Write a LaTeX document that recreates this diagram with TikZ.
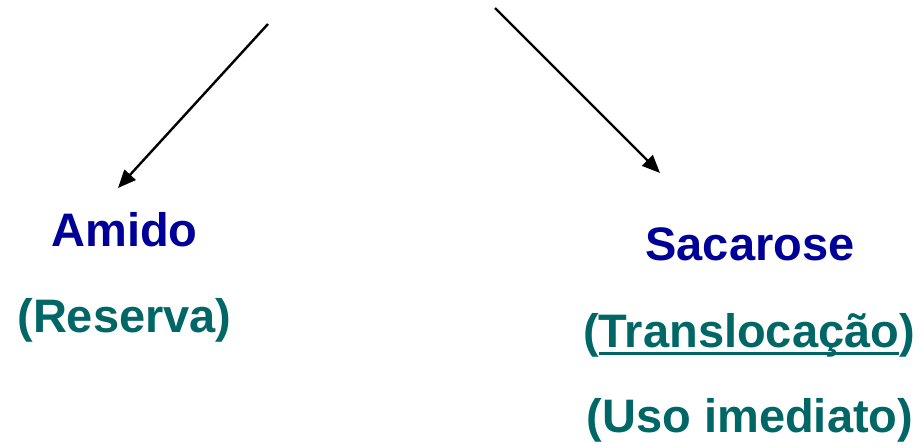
\documentclass[tikz,border=0pt]{standalone}
\usepackage{fontspec}
\setmainfont{Liberation Sans}
\usetikzlibrary{arrows.meta}
\definecolor{titleblue}{RGB}{0,0,153}
\definecolor{noteteal}{RGB}{0,102,102}
\begin{document}
\begin{tikzpicture}[x=1pt,y=-1pt,
  lbl/.style={anchor=base,inner sep=0pt,font=\fontsize{47}{52}\selectfont\bfseries},
  title/.style={lbl,text=titleblue},
  note/.style={lbl,text=noteteal},
  flow/.style={line width=2.4pt,-{Triangle[length=18pt,width=15pt]}}]
\useasboundingbox (0,0) rectangle (924,445);

% sources of the two branches
\coordinate (srcL) at (268,24);
\coordinate (tipL) at (118,188);
\coordinate (srcR) at (495,8);
\coordinate (tipR) at (660,173);
\draw[flow] (srcL) -- (tipL);
\draw[flow] (srcR) -- (tipR);

% left branch
\node[title] (amido) at (124.5,246) {Amido};
\node[note] (reserva) at (124.5,332) {(Reserva)};

% right branch
\node[title] (sacarose) at (750,260) {Sacarose};
\node[note] (transl) at (749,347) {\phantom{(}Translocação\phantom{)}};
\node[note] (parens) at (749,347) {(\phantom{Translocação})};
\draw[noteteal,line width=3.2pt]
  ([xshift=16pt,yshift=-6.5pt]transl.base west) -- ([xshift=-16pt,yshift=-6.5pt]transl.base east);
\node[note] (uso) at (750,432) {(Uso imediato)};
\end{tikzpicture}
\end{document}
